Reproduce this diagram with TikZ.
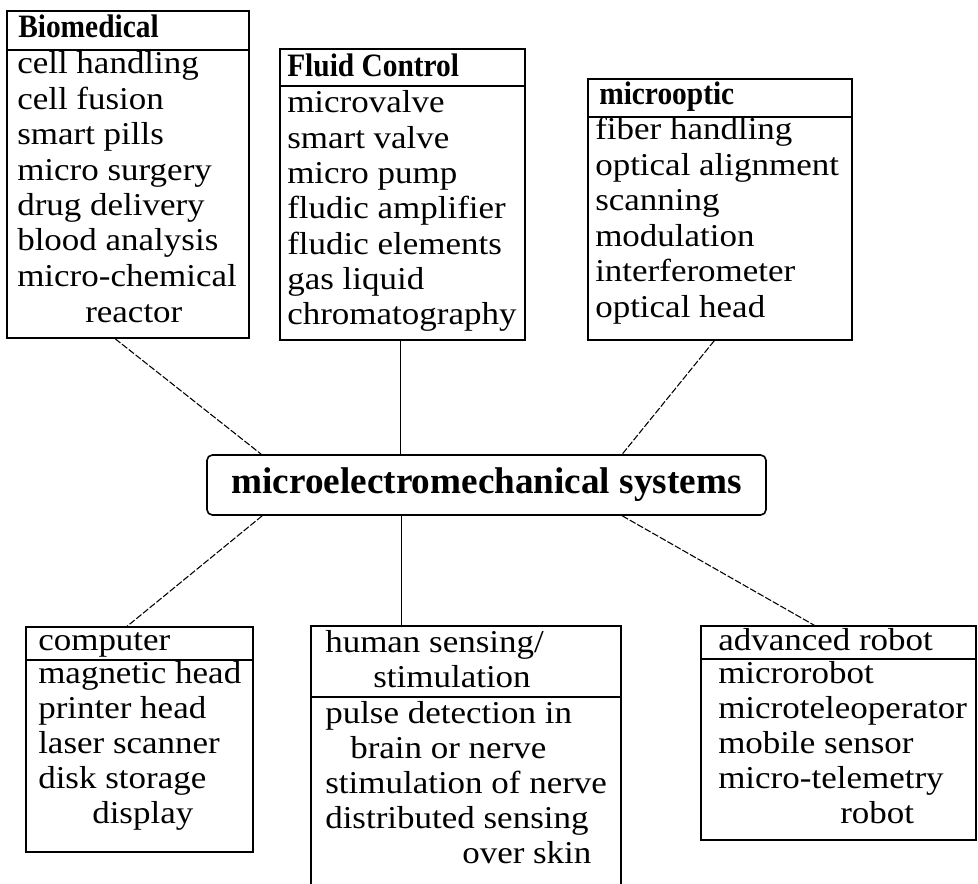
\documentclass[tikz,border=0pt]{standalone}
\usepackage{fontspec}
\setmainfont{Liberation Serif}
\newfontfamily\itemfont[FakeStretch=1.1]{Liberation Serif}
\newfontfamily\hdrfont[FakeStretch=0.9]{Liberation Serif}
\usetikzlibrary{fit,calc}
\begin{document}
\begin{tikzpicture}[x=0.75pt,y=-0.75pt,
  box/.style={draw, line width=1.2pt, inner sep=0pt},
  sepline/.style={line width=1.2pt},
  itm/.style={anchor=base west, inner sep=0pt, font=\itemfont\fontsize{23.85}{26}\selectfont},
  hdr/.style={anchor=base west, inner sep=0pt, font=\hdrfont\bfseries\fontsize{24.5}{26}\selectfont},
  conn/.style={line width=0.9pt},
  dconn/.style={line width=0.8pt, dash pattern=on 5pt off 1.5pt},
  hub/.style={draw, line width=1.2pt, rounded corners=4pt, minimum width=419.25pt, minimum height=45pt, inner sep=0pt, font=\bfseries\fontsize{27.9}{30}\selectfont}]
\useasboundingbox (0,0) rectangle (978,884);
\fill[white] (0,0) rectangle (978,884);

% Biomedical
\node[box, fit={(7,11) (249,338)}] (bio) {};
\draw[sepline] (bio.west |- 0,50) -- (bio.east |- 0,50);
\node[hdr] (bioh) at (18,38) {Biomedical};
\node[itm] (bio1) at (17,74) {cell handling};
\node[itm] (bio2) at (17,109.4) {cell fusion};
\node[itm] (bio3) at (17,144.8) {smart pills};
\node[itm] (bio4) at (17,180.2) {micro surgery};
\node[itm] (bio5) at (17,215.6) {drug delivery};
\node[itm] (bio6) at (17,251) {blood analysis};
\node[itm] (bio7) at (17,286.4) {micro-chemical};
\node[itm] (bio8) at (85,322) {reactor};

% Fluid Control
\node[box, fit={(280,49) (525,340)}] (fluid) {};
\draw[sepline] (fluid.west |- 0,86) -- (fluid.east |- 0,86);
\node[hdr] (fluidh) at (287,77) {Fluid Control};
\node[itm] (fl1) at (287,113) {microvalve};
\node[itm] (fl2) at (287,148.3) {smart valve};
\node[itm] (fl3) at (287,183.6) {micro pump};
\node[itm] (fl4) at (287,218.9) {fludic amplifier};
\node[itm] (fl5) at (287,254.2) {fludic elements};
\node[itm] (fl6) at (287,289.5) {gas liquid};
\node[itm] (fl7) at (287,324.8) {chromatography};

% microoptic
\node[box, fit={(588,79) (852,340)}] (opt) {};
\draw[sepline] (opt.west |- 0,117) -- (opt.east |- 0,117);
\node[hdr] (opth) at (599,105) {microoptic};
\node[itm] (op1) at (595,140) {fiber handling};
\node[itm] (op2) at (595,175.4) {optical alignment};
\node[itm] (op3) at (595,210.8) {scanning};
\node[itm] (op4) at (595,246.2) {modulation};
\node[itm] (op5) at (595,281.6) {interferometer};
\node[itm] (op6) at (595,317) {optical head};

% hub
\node[hub] (mems) at (486.5,485) {microelectromechanical systems};

% computer
\node[box, fit={(26,627) (253,852)}] (comp) {};
\draw[sepline] (comp.west |- 0,660) -- (comp.east |- 0,660);
\node[itm] (comph) at (38,650) {computer};
\node[itm] (co1) at (38,683) {magnetic head};
\node[itm] (co2) at (38,718) {printer head};
\node[itm] (co3) at (38,753) {laser scanner};
\node[itm] (co4) at (38,788) {disk storage};
\node[itm] (co5) at (92,823) {display};

% human sensing
\node[inner sep=0pt, fit={(311,626) (621,884)}] (hum) {};
\draw[line width=1.2pt] (hum.south west) |- (hum.north east) -- (hum.south east);
\draw[sepline] (hum.west |- 0,697) -- (hum.east |- 0,697);
\node[itm] (humh1) at (325,652) {human sensing/};
\node[itm] (humh2) at (373,687) {stimulation};
\node[itm] (hu1) at (325,723) {pulse detection in};
\node[itm] (hu2) at (350,758) {brain or nerve};
\node[itm] (hu3) at (325,793) {stimulation of nerve};
\node[itm] (hu4) at (325,828) {distributed sensing};
\node[itm] (hu5) at (462,863) {over skin};

% advanced robot
\node[box, fit={(701,626) (976,840)}] (rob) {};
\draw[sepline] (rob.west |- 0,659) -- (rob.east |- 0,659);
\node[itm] (robh) at (718,650) {advanced robot};
\node[itm] (ro1) at (718,683) {microrobot};
\node[itm] (ro2) at (718,718) {microteleoperator};
\node[itm] (ro3) at (718,753) {mobile sensor};
\node[itm] (ro4) at (718,788) {micro-telemetry};
\node[itm] (ro5) at (840,823) {robot};

% connectors
\draw[dconn] ($(bio.south west)+(109,0)$) -- ($(mems.north west)+(55,0)$);
\draw[conn] ($(fluid.south west)+(121,0)$) coordinate (ft) -- (ft |- mems.north);
\draw[dconn] ($(opt.south west)+(127,0)$) -- ($(mems.north west)+(416,0)$);
\draw[dconn] ($(mems.south west)+(56,0)$) -- ($(comp.north west)+(102,0)$);
\draw[conn] ($(hum.north west)+(91,0)$) coordinate (hb) -- (hb |- mems.south);
\draw[dconn] ($(mems.south west)+(416,0)$) -- ($(rob.north west)+(114,0)$);
\end{tikzpicture}
\end{document}
